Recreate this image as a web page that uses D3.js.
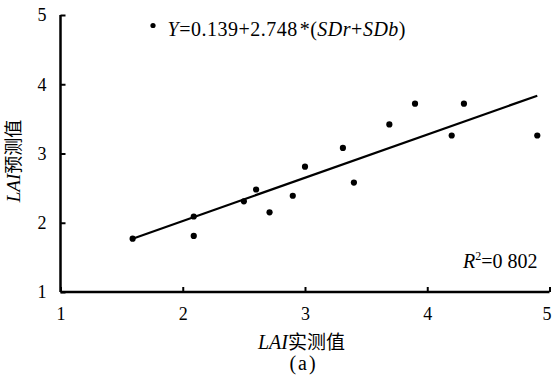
<!DOCTYPE html>
<html>
<head>
<meta charset="utf-8">
<script src="https://cdn.jsdelivr.net/npm/d3@7"></script>
<style>
  body { margin: 0; background: #fff; }
  svg { display: block; font-family: "Liberation Serif", "Noto Sans CJK SC", serif; }
</style>
</head>
<body>
<svg id="chart" width="552" height="378"></svg>
<script>
// measured LAI vs predicted LAI
const measured  = [1.59, 2.09, 2.09, 2.50, 2.60, 2.71, 2.90, 3.00, 3.31, 3.40, 3.69, 3.90, 4.20, 4.30, 4.90];
const predicted = [1.77, 2.09, 1.81, 2.31, 2.48, 2.15, 2.39, 2.81, 3.08, 2.58, 3.42, 3.72, 3.26, 3.72, 3.26];
// fitted line end points
const fitX = [1.59, 4.90];
const fitY = [1.77, 3.835];
const xTicks = [1, 2, 3, 4, 5];
const yTicks = [1, 2, 3, 4, 5];

const svg = d3.select('#chart');
const margin = { top: 15, left: 60.5 };

const x = d3.scaleLinear().domain([1, 5]).range([0, 489]);
const y = d3.scaleLinear().domain([1, 5]).range([277, 0]);

const g = svg.append('g')
  .attr('transform', `translate(${margin.left},${margin.top})`);

// axes (ticks pointing inward)
const xAxis = g.append('g')
  .attr('transform', `translate(0,${y(1)})`)
  .call(d3.axisBottom(x).tickValues(xTicks).tickSize(-5).tickPadding(15).tickFormat(d3.format('d')));
const yAxis = g.append('g')
  .call(d3.axisLeft(y).tickValues(yTicks).tickSize(-5).tickPadding(14).tickFormat(d3.format('d')));

[xAxis, yAxis].forEach(a => {
  a.select('.domain').attr('stroke', '#000').attr('stroke-width', 2.5);
  a.selectAll('.tick line').attr('stroke', '#000').attr('stroke-width', 2);
  a.selectAll('.tick text')
    .attr('fill', '#000')
    .attr('font-size', 18)
    .attr('font-family', '"Liberation Serif", serif');
});
xAxis.select('.domain').attr('d', `M0,0H${x(5)}`);
yAxis.select('.domain').attr('d', `M0,${y(1)}V${y(5)}`);
// keep the last x label inside the frame
xAxis.selectAll('.tick text').filter(d => d === 5).attr('dx', -3);

// fitted line
g.append('line')
  .attr('x1', x(fitX[0])).attr('y1', y(fitY[0]))
  .attr('x2', x(fitX[1])).attr('y2', y(fitY[1]))
  .attr('stroke', '#000')
  .attr('stroke-width', 2.2);

// points
g.selectAll('circle.pt')
  .data(measured.map((m, i) => ({ m, p: predicted[i] })))
  .join('circle')
  .attr('class', 'pt')
  .attr('cx', d => x(d.m))
  .attr('cy', d => y(d.p))
  .attr('r', 3.1)
  .attr('fill', '#000');

// legend
g.append('circle')
  .attr('cx', 92.5).attr('cy', 10.5)
  .attr('r', 2.6)
  .attr('fill', '#000');
const leg = g.append('text')
  .attr('x', 107).attr('y', 21)
  .attr('font-size', 20)
  .attr('letter-spacing', 0.5)
  .attr('fill', '#000');
leg.append('tspan').attr('font-style', 'italic').text('Y');
leg.append('tspan').text('=0.139+2.748');
leg.append('tspan').text('*').attr('dx', 2);
leg.append('tspan').text('(');
leg.append('tspan').attr('font-style', 'italic').text('SDr');
leg.append('tspan').text('+');
leg.append('tspan').attr('font-style', 'italic').text('SDb');
leg.append('tspan').text(')');

// R squared
const r2 = g.append('text')
  .attr('x', 477).attr('y', 253)
  .attr('text-anchor', 'end')
  .attr('font-size', 20)
  .attr('fill', '#000');
r2.append('tspan').attr('font-style', 'italic').text('R');
r2.append('tspan').attr('font-size', 12).attr('dy', -8).text('2');
r2.append('tspan').attr('dy', 8).text('=0 802');

// axis titles
const xt = g.append('text')
  .attr('x', 241).attr('y', 334)
  .attr('text-anchor', 'middle')
  .attr('font-size', 20)
  .attr('fill', '#000');
xt.append('tspan').attr('font-style', 'italic').text('LAI');
xt.append('tspan').attr('font-family', '"Noto Sans CJK SC", sans-serif').attr('font-size', 19).text('实测值');

g.append('text')
  .attr('x', 243).attr('y', 355)
  .attr('text-anchor', 'middle')
  .attr('font-size', 20)
  .attr('letter-spacing', 2)
  .attr('fill', '#000')
  .text('(a)');

const yt = g.append('text')
  .attr('transform', `translate(-41,${161 - margin.top}) rotate(-90)`)
  .attr('text-anchor', 'middle')
  .attr('font-size', 19)
  .attr('fill', '#000');
yt.append('tspan').attr('font-style', 'italic').text('LAI');
yt.append('tspan').attr('font-family', '"Noto Sans CJK SC", sans-serif').attr('font-size', 18).text('预测值');
</script>
</body>
</html>
